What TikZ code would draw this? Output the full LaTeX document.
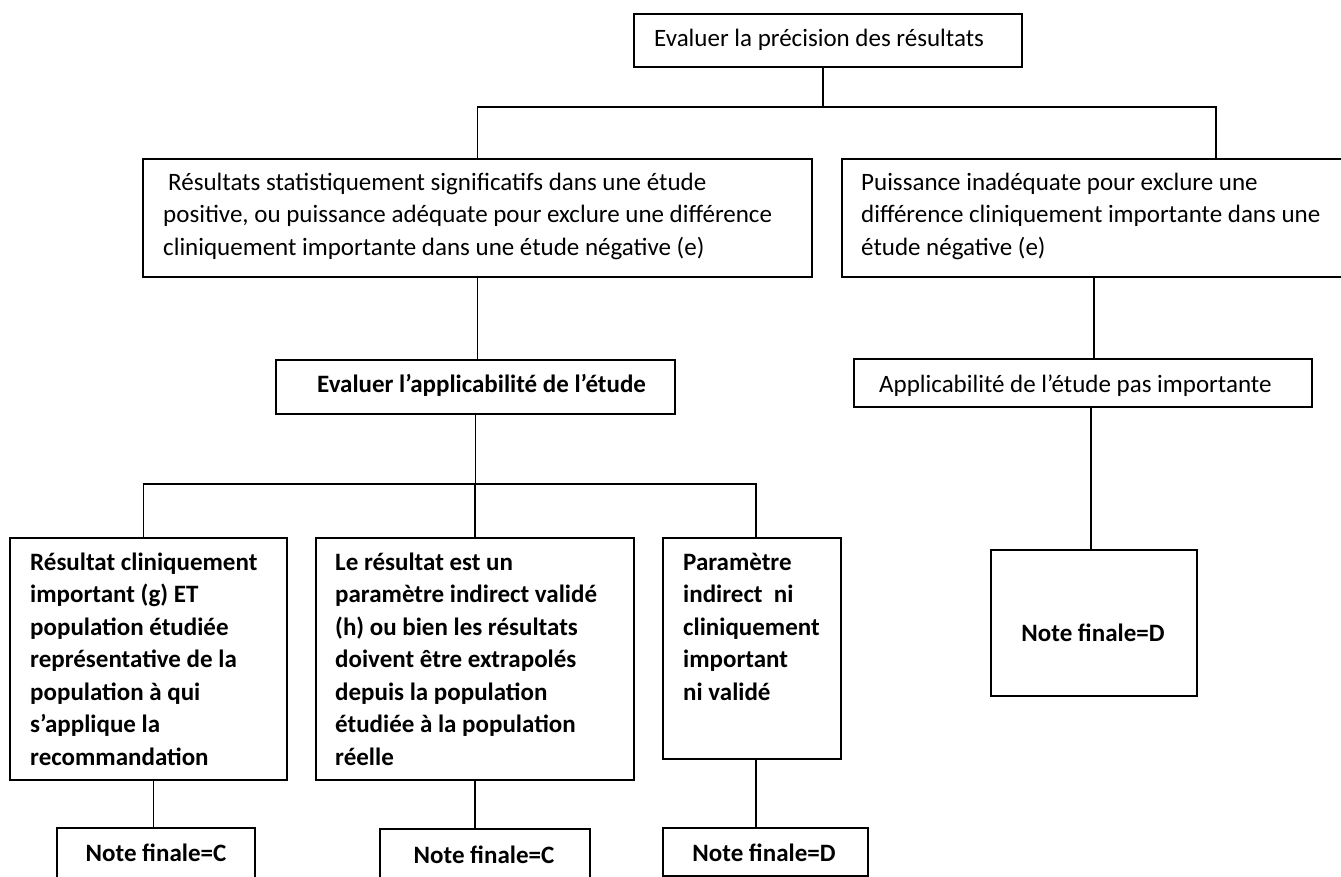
\documentclass[tikz,border=0pt]{standalone}
\usepackage{fontspec}
\setmainfont{Carlito}
\newcommand\txtlines[1]{\begin{tabular}[t]{@{}l@{}}#1\end{tabular}}
\begin{document}
\begin{tikzpicture}[x=1pt,y=-1pt,
  box/.style={draw=black, line width=1.8pt, rectangle, inner sep=0pt, anchor=north west},
  link/.style={draw=black, line width=1.2pt},
  txt/.style={inner sep=0pt, anchor=base west, font=\fontsize{25}{32.5}\selectfont},
  btxt/.style={txt, font=\fontsize{25}{32.5}\selectfont\bfseries},
  note/.style={inner sep=0pt, anchor=base, font=\fontsize{25}{32.5}\selectfont\bfseries}]
\clip (0,0) rectangle (1341,876);
\fill[white] (0,0) rectangle (1341,876);

% boxes
\node[box, minimum width=388pt, minimum height=53pt] (T) at (633,13) {};
\node[box, minimum width=669pt, minimum height=118pt] (A) at (142,158) {};
\node[box, minimum width=510pt, minimum height=118pt] (B) at (841,158) {};
\node[box, minimum width=399pt, minimum height=54pt] (C) at (275,359) {};
\node[box, minimum width=458pt, minimum height=48pt] (D) at (853,358) {};
\node[box, minimum width=277pt, minimum height=242pt] (E1) at (9,537) {};
\node[box, minimum width=318pt, minimum height=242pt] (E2) at (315,537) {};
\node[box, minimum width=178pt, minimum height=221pt] (E3) at (662,537) {};
\node[box, minimum width=206pt, minimum height=146pt] (F) at (990,549) {};
\node[box, minimum width=198pt, minimum height=60pt] (G1) at (56,827) {};
\node[box, minimum width=210pt, minimum height=60pt] (G2) at (379,828) {};
\node[box, minimum width=205pt, minimum height=48pt] (G3) at (662,827) {};

% texts
\node[txt] (tT) at (654,46) {Evaluer la précision des résultats};
\node[txt] (tA) at (163,190) {\txtlines{\hspace{5pt}Résultats statistiquement significatifs dans une étude\\
positive, ou puissance adéquate pour exclure une différence\\
cliniquement importante dans une étude négative (e)}};
\node[txt] (tB) at (861,190) {\txtlines{Puissance inadéquate pour exclure une\\
différence cliniquement importante dans une\\
étude négative (e)}};
\node[btxt] (tC) at (317,392) {Evaluer l’applicabilité de l’étude};
\node[txt] (tD) at (879,392) {Applicabilité de l’étude pas importante};
\node[btxt] (tE1) at (30,570) {\txtlines{Résultat cliniquement\\
important (g) ET\\
population étudiée\\
représentative de la\\
population à qui\\
s’applique la\\
recommandation}};
\node[btxt] (tE2) at (335,570) {\txtlines{Le résultat est un\\
paramètre indirect validé\\
(h) ou bien les résultats\\
doivent être extrapolés\\
depuis la population\\
étudiée à la population\\
réelle}};
\node[btxt] (tE3) at (683,570) {\txtlines{Paramètre\\
indirect\ \ ni\\
cliniquement\\
important\\
ni validé}};
\node[note] (tF) at (1093,641) {Note finale=D};
\node[note] (tG1) at (156,861) {Note finale=C};
\node[note] (tG2) at (484,863) {Note finale=C};
\node[note] (tG3) at (764,861) {Note finale=D};

% connectors
\coordinate (h1) at (0,107);
\coordinate (h2) at (0,484);
\coordinate (Bin) at (1216,158);
\coordinate (Tout) at ([xshift=-5pt]T.south);
\coordinate (E1in) at ([xshift=-5pt]E1.north);
\coordinate (E1out) at ([xshift=5pt]E1.south);
\coordinate (E3in) at ([xshift=4pt]E3.north);
\coordinate (E3out) at ([xshift=4pt]E3.south);
\coordinate (Bout) at ([xshift=-3pt]B.south);
\coordinate (Fin) at ([xshift=-3pt]F.north);
\draw[link] (Tout) -- (Tout |- h1);
\draw[link] (A.north) |- (Bin |- h1) -- (Bin);
\draw[link] (A.south) -- (A.south |- C.north);
\draw[link] (Bout) -- (Bout |- D.north);
\draw[link] (C.south) -- (C.south |- h2);
\draw[link] (E1in) |- (E3in |- h2) -- (E3in);
\draw[link] (E2.north) -- (E2.north |- h2);
\draw[link] (Fin |- D.south) -- (Fin);
\draw[link] (E1out) -- (E1out |- G1.north);
\draw[link] (E2.south) -- (E2.south |- G2.north);
\draw[link] (E3out) -- (E3out |- G3.north);
\end{tikzpicture}
\end{document}
